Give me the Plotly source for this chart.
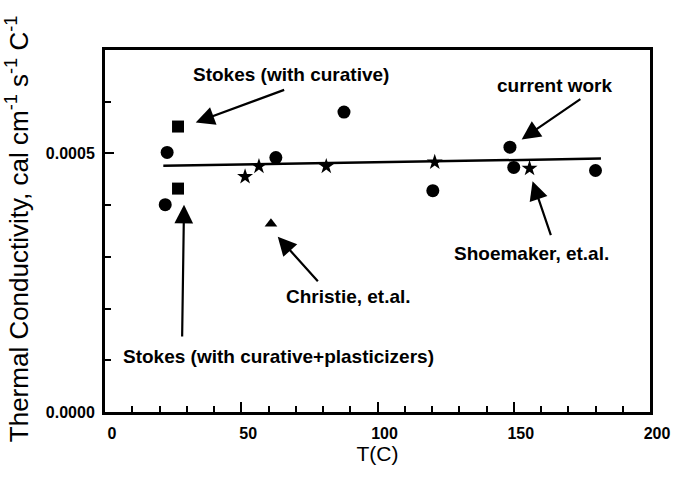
import plotly.graph_objects as go

# Thermal conductivity measurements (T in C, k in cal cm^-1 s^-1 C^-1)
current_T = [22.8, 22.1, 62.7, 87.7, 120.3, 148.6, 150.0, 180.0]
current_k = [0.000502, 0.000401, 0.000492, 0.000580, 0.000428, 0.000512, 0.000473, 0.000467]

stokes_T = [26.8, 26.8]
stokes_k = [0.000552, 0.000432]

shoemaker_T = [51.4, 56.5, 81.2, 121.0, 155.8]
shoemaker_k = [0.000455, 0.000475, 0.000475, 0.000483, 0.000471]

christie_T = [60.9]
christie_k = [0.000364]

# Linear fit through current work
fit_T = [21.4, 182.0]
fit_k = [0.000476, 0.000490]

FONT = "Liberation Sans, Arial, Helvetica, sans-serif"

fig = go.Figure()
fig.add_trace(go.Scatter(x=fit_T, y=fit_k, mode="lines",
                         line=dict(color="black", width=2.5), showlegend=False))
fig.add_trace(go.Scatter(x=current_T, y=current_k, mode="markers",
                         marker=dict(symbol="circle", size=13, color="black"), showlegend=False))
fig.add_trace(go.Scatter(x=stokes_T, y=stokes_k, mode="markers",
                         marker=dict(symbol="square", size=12, color="black"), showlegend=False))
fig.add_trace(go.Scatter(x=shoemaker_T, y=shoemaker_k, mode="markers",
                         marker=dict(symbol="star", size=12, color="black"), showlegend=False))
fig.add_trace(go.Scatter(x=christie_T, y=christie_k, mode="markers",
                         marker=dict(symbol="triangle-up", size=11, color="black"), showlegend=False))

# Labels with arrows: (text, text_x, text_y, tail_x, tail_y, tip_x, tip_y)
labels = [
    ("Stokes (with curative)", 68.1, 0.000653, 66.3, 0.000624, 33.3, 0.000560),
    ("current work", 165.2, 0.000632, 175.0, 0.000607, 152.9, 0.000527),
    ("Shoemaker, et.al.", 156.5, 0.000306, 163.8, 0.000339, 156.9, 0.000446),
    ("Christie, et.al.", 89.5, 0.000223, 78.6, 0.000250, 63.4, 0.000339),
    ("Stokes (with curative+plasticizers)", 63.5, 0.000107, 28.3, 0.000143, 29.0, 0.000401),
]
annotations = []
for text, tx, ty, ax, ay, hx, hy in labels:
    annotations.append(dict(x=tx, y=ty, xref="x", yref="y", text=text, showarrow=False,
                            font=dict(family=FONT, size=19, color="black", weight="bold")))
    annotations.append(dict(x=hx, y=hy, ax=ax, ay=ay, xref="x", yref="y",
                            axref="x", ayref="y", text="", showarrow=True,
                            arrowhead=2, arrowsize=1.7, arrowwidth=2.2, arrowcolor="black"))

annotations.append(dict(
    x=0, y=0.505, xref="paper", yref="paper", xshift=-88,
    text="Thermal Conductivity, cal cm<sup>-1</sup> s<sup>-1</sup> C<sup>-1</sup>",
    textangle=-90, showarrow=False, xanchor="center", yanchor="middle",
    font=dict(family=FONT, size=26, color="black")))

fig.update_layout(
    width=682, height=477,
    margin=dict(l=105, r=25, t=50, b=65),
    paper_bgcolor="white", plot_bgcolor="white",
    annotations=annotations,
    font=dict(family=FONT, color="black"),
)
fig.update_xaxes(
    range=[0, 200], tickvals=[0, 50, 100, 150, 200],
    ticks="inside", ticklen=10, tickwidth=2, tickcolor="black",
    minor=dict(dtick=10, ticks="inside", ticklen=6, tickwidth=1.5, tickcolor="black"),
    showline=True, linewidth=3, linecolor="black", mirror=True,
    showgrid=False, zeroline=False, ticklabelshift=7, ticklabelstandoff=5,
    tickfont=dict(family=FONT, size=16, color="black", weight="bold"),
    title=dict(text="T(C)", font=dict(family=FONT, size=21, color="black"), standoff=0),
)
fig.update_yaxes(
    range=[0, 0.0007], tickvals=[0, 0.0005], tickformat=".4f",
    ticks="inside", ticklen=9, tickwidth=2, tickcolor="black",
    minor=dict(dtick=0.0001, ticks="inside", ticklen=6, tickwidth=1.5, tickcolor="black"),
    showline=True, linewidth=3, linecolor="black", mirror=True,
    showgrid=False, zeroline=False, ticklabelstandoff=4,
    tickfont=dict(family=FONT, size=16, color="black", weight="bold"),
)

fig.write_html("out.html")
